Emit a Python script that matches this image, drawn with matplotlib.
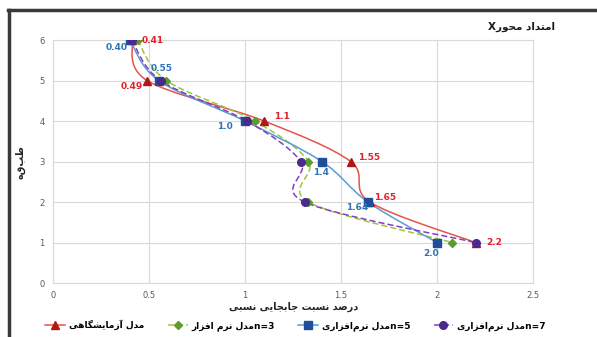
import numpy as np
import matplotlib
matplotlib.use('Agg')
import matplotlib.pyplot as plt
from matplotlib.path import Path
from matplotlib.patches import PathPatch
from matplotlib.lines import Line2D

# Arabic/Persian letters -> (isolated, final, initial, medial); None = right-joining only
FORMS = {
    '\u0627': ('\uFE8D', '\uFE8E', None, None),   # alef
    '\u0622': ('\uFE81', '\uFE82', None, None),   # alef madda
    '\u0628': ('\uFE8F', '\uFE90', '\uFE91', '\uFE92'),
    '\u067E': ('\uFB56', '\uFB57', '\uFB58', '\uFB59'),
    '\u062A': ('\uFE95', '\uFE96', '\uFE97', '\uFE98'),
    '\u062C': ('\uFE9D', '\uFE9E', '\uFE9F', '\uFEA0'),
    '\u062D': ('\uFEA1', '\uFEA2', '\uFEA3', '\uFEA4'),
    '\u062F': ('\uFEA9', '\uFEAA', None, None),
    '\u0631': ('\uFEAD', '\uFEAE', None, None),
    '\u0632': ('\uFEAF', '\uFEB0', None, None),
    '\u0633': ('\uFEB1', '\uFEB2', '\uFEB3', '\uFEB4'),
    '\u0634': ('\uFEB5', '\uFEB6', '\uFEB7', '\uFEB8'),
    '\u0635': ('\uFEB9', '\uFEBA', '\uFEBB', '\uFEBC'),
    '\u0637': ('\uFEC1', '\uFEC2', '\uFEC3', '\uFEC4'),
    '\u0641': ('\uFED1', '\uFED2', '\uFED3', '\uFED4'),
    '\u06A9': ('\uFB8E', '\uFB8F', '\uFB90', '\uFB91'),
    '\u06AF': ('\uFB92', '\uFB93', '\uFB94', '\uFB95'),
    '\u0644': ('\uFEDD', '\uFEDE', '\uFEDF', '\uFEE0'),
    '\u0645': ('\uFEE1', '\uFEE2', '\uFEE3', '\uFEE4'),
    '\u0646': ('\uFEE5', '\uFEE6', '\uFEE7', '\uFEE8'),
    '\u0647': ('\uFEE9', '\uFEEA', '\uFEEB', '\uFEEC'),
    '\u0648': ('\uFEED', '\uFEEE', None, None),
    '\u06CC': ('\uFBFC', '\uFBFD', '\uFBFE', '\uFBFF'),
}


def rtl(text):
    """shape arabic letters and reverse them for left-to-right drawing"""
    out = []
    n = len(text)
    for i, ch in enumerate(text):
        if ch == '\u200c':
            continue
        if ch not in FORMS:
            out.append(ch)
            continue
        prev = text[i - 1] if i > 0 else ''
        nxt = text[i + 1] if i + 1 < n else ''
        join_prev = prev in FORMS and FORMS[prev][2] is not None
        join_next = FORMS[ch][2] is not None and nxt in FORMS
        iso, fin, ini, med = FORMS[ch]
        if join_prev and join_next:
            out.append(med)
        elif join_prev:
            out.append(fin)
        elif join_next:
            out.append(ini)
        else:
            out.append(iso)
    return ''.join(reversed(out))


# ---- data ----
floors = [6, 5, 4, 3, 2, 1]
lab_model = [0.41, 0.49, 1.10, 1.55, 1.65, 2.20]
soft_n3 = [0.44, 0.59, 1.05, 1.33, 1.33, 2.08]
soft_n5 = [0.40, 0.55, 1.00, 1.40, 1.64, 2.00]
soft_n7 = [0.41, 0.56, 1.01, 1.29, 1.31, 2.20]

red_labels = ['0.41', '0.49', '1.1', '1.55', '1.65', '2.2']
blue_labels = ['0.40', '0.55', '1.0', '1.4', '1.64', '2.0']

title_txt = 'X' + rtl('امتداد محور')
xlabel_txt = rtl('درصد نسبت جابجایی نسبی')
ylabel_txt = rtl('طبقه')
legend_labels = [rtl('مدل آزمایشگاهی'),
                 rtl('مدل نرم افزار') + 'n=3',
                 rtl('مدل نرم\u200cافزاری') + 'n=5',
                 rtl('مدل نرم\u200cافزاری') + 'n=7']

xticks = [0, 0.5, 1, 1.5, 2, 2.5]
xticklabels = ['0', '0.5', '1', '1.5', '2', '2.5']
yticks = [0, 1, 2, 3, 4, 5, 6]


def smooth_path(xs, ys):
    # excel-like smoothed line (catmull-rom as bezier segments)
    pts = np.column_stack([xs, ys]).astype(float)
    verts = [pts[0]]
    codes = [Path.MOVETO]
    n = len(pts)
    for i in range(n - 1):
        p0 = pts[i - 1] if i > 0 else pts[i]
        p1 = pts[i]
        p2 = pts[i + 1]
        p3 = pts[i + 2] if i + 2 < n else pts[i + 1]
        verts += [p1 + (p2 - p0) / 6, p2 - (p3 - p1) / 6, p2]
        codes += [Path.CURVE4] * 3
    return Path(verts, codes)


series = [
    # values, line colour, linestyle, marker, marker face, marker size
    (lab_model, '#E5534B', '-', '^', '#B01818', 5.5),
    (soft_n3, '#9BC83C', (0, (4, 2)), 'D', '#5E9B2E', 4.0),
    (soft_n5, '#5B9BD5', '-', 's', '#1F4E9A', 5.5),
    (soft_n7, '#8040C0', (0, (4, 2)), 'o', '#4A2A8C', 5.5),
]

plt.rcParams['font.family'] = ['DejaVu Sans']

fig = plt.figure(figsize=(5.97, 3.37), dpi=100)
fig.patch.set_facecolor('white')
ax = fig.add_axes([0.089, 0.160, 0.804, 0.721])

for vals, lc, ls, mk, mf, ms in series:
    ax.add_patch(PathPatch(smooth_path(vals, floors), fill=False, edgecolor=lc,
                           lw=1.1, linestyle=ls, zorder=3))
for vals, lc, ls, mk, mf, ms in series:
    ax.plot(vals, floors, linestyle='none', marker=mk, markersize=ms,
            markerfacecolor=mf, markeredgecolor=mf, zorder=4)

# data labels
red_off = [(7, 0, 'left'), (-3, -4, 'right'), (7, 3, 'left'), (5, 3, 'left'),
           (3, 3, 'left'), (8, 0, 'left')]
blue_off = [(-2, -5, 'right'), (2, 9, 'center'), (-9, -4, 'right'), (-1, -8, 'center'),
            (0, -4, 'right'), (-4, -8, 'center')]
for x, y, t, (dx, dy, ha) in zip(lab_model, floors, red_labels, red_off):
    ax.annotate(t, (x, y), xytext=(dx, dy), textcoords='offset points', ha=ha,
                va='center', color='#E0202A', fontsize=6.5, fontweight='bold', zorder=5)
for x, y, t, (dx, dy, ha) in zip(soft_n5, floors, blue_labels, blue_off):
    ax.annotate(t, (x, y), xytext=(dx, dy), textcoords='offset points', ha=ha,
                va='center', color='#2E75B6', fontsize=6.5, fontweight='bold', zorder=5)

ax.set_xlim(0, 2.5)
ax.set_ylim(0, 6)
ax.set_xticks(xticks)
ax.set_xticklabels(xticklabels)
ax.set_yticks(yticks)
ax.tick_params(length=0, labelsize=6, labelcolor='#595959', pad=6)
ax.grid(color='#D9D9D9', lw=0.8)
ax.set_axisbelow(True)
for sp in ax.spines.values():
    sp.set_color('#D9D9D9')
    sp.set_linewidth(0.8)

ax.set_xlabel(xlabel_txt, fontsize=7, fontweight='bold', color='#262626', labelpad=1)
ax.set_ylabel(ylabel_txt, fontsize=7, fontweight='bold', color='#262626', labelpad=10)
fig.text(0.93, 0.92, title_txt, ha='right', va='center', fontsize=7.5,
         fontweight='bold', color='#1a1a1a')

handles = [Line2D([], [], color=lc, linestyle=ls, lw=1.1, marker=mk, markersize=ms,
                  markerfacecolor=mf, markeredgecolor=mf)
           for vals, lc, ls, mk, mf, ms in series]
fig.legend(handles, legend_labels, loc='lower center', bbox_to_anchor=(0.495, -0.005),
           ncol=4, frameon=False, prop={'size': 6.5, 'weight': 'bold'},
           handlelength=2.2, columnspacing=2.6, handletextpad=0.4)

# screenshot frame (thick dark edge at left and top)
fig.add_artist(Line2D([0.015, 0.015], [0, 0.97], color='#3a3a3a', lw=2.5,
                      transform=fig.transFigure))
fig.add_artist(Line2D([0.013, 1.0], [0.97, 0.97], color='#3a3a3a', lw=2.5,
                      transform=fig.transFigure))

fig.savefig('out.png', dpi=100)
